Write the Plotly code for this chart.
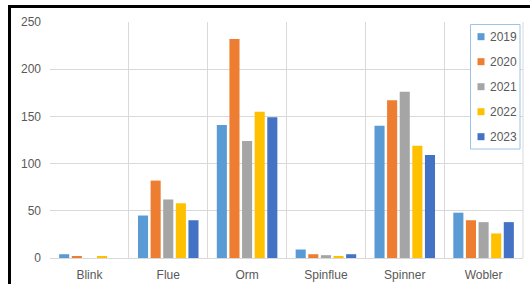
import plotly.graph_objects as go

categories = ["Blink", "Flue", "Orm", "Spinflue", "Spinner", "Wobler"]
years = ["2019", "2020", "2021", "2022", "2023"]
v2019 = [4, 45, 141, 9, 140, 48]
v2020 = [2, 82, 232, 4, 167, 40]
v2021 = [0, 62, 124, 3, 176, 38]
v2022 = [1.5, 58, 155, 1.5, 119, 26]
v2023 = [0, 40, 149, 4, 109, 38]
series = [v2019, v2020, v2021, v2022, v2023]
colors = ["#5B9BD5", "#ED7D31", "#A5A5A5", "#FFC000", "#4472C4"]

fig = go.Figure()
for name, vals, col in zip(years, series, colors):
    fig.add_trace(go.Bar(x=categories, y=vals, name=name, marker_color=col,
                         marker_line_width=0, showlegend=False))

W, H = 530, 284
L, R, T, B = 50, 7, 22, 26
pw, ph = W - L - R, H - T - B

def px(x):
    return (x - L) / pw

def py(y):
    return (H - B - y) / ph

shapes = [
    dict(type="path", xref="paper", yref="paper",
         path=f"M {px(9.5)} {py(290)} L {px(9.5)} {py(6.5)} L {px(535)} {py(6.5)}",
         line=dict(color="black", width=3)),
    dict(type="line", xref="paper", yref="paper", x0=1, x1=1, y0=0, y1=1,
         line=dict(color="#D9D9D9", width=1)),
    # legend box
    dict(type="rect", xref="paper", yref="paper",
         x0=px(470.5), x1=px(520), y0=py(24.5), y1=py(149),
         line=dict(color="#9DC3E6", width=1), fillcolor="white", layer="above"),
]
annotations = []
for i, (name, col) in enumerate(zip(years, colors)):
    cy = 36.7 + 25 * i
    shapes.append(dict(type="rect", xref="paper", yref="paper",
                       x0=px(477.5), x1=px(484.5), y0=py(cy - 3.5), y1=py(cy + 3.5),
                       line=dict(width=0), fillcolor=col, layer="above"))
    annotations.append(dict(xref="paper", yref="paper", x=px(487.5), y=py(cy),
                            xanchor="left", yanchor="middle", text=name, showarrow=False,
                            font=dict(size=12, color="#595959")))

fig.update_layout(
    width=W, height=H,
    margin=dict(l=L, r=R, t=T, b=B, autoexpand=False),
    paper_bgcolor="white", plot_bgcolor="white",
    barmode="group", bargap=0.2, bargroupgap=0.2,
    font=dict(family="Liberation Sans", size=12, color="#595959"),
    showlegend=False,
    xaxis=dict(showgrid=True, gridcolor="#D9D9D9", tickson="boundaries",
               ticks="", showline=True, linecolor="#D9D9D9", automargin=False,
               ticklabelstandoff=6),
    yaxis=dict(range=[0, 250], dtick=50, showgrid=True, gridcolor="#D9D9D9",
               zeroline=False, ticks="", showline=False, automargin=False,
               ticklabelstandoff=8),
    shapes=shapes,
    annotations=annotations,
)

fig.write_html("out.html", config={"displayModeBar": False},
               post_script="document.body.style.margin='0px';document.body.style.overflow='hidden';")
